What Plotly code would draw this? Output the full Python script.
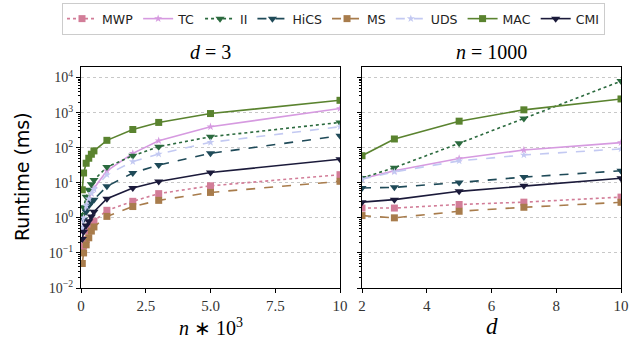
import plotly.graph_objects as go

# Runtime (ms) versus sample size n (in thousands), dimension fixed at d = 3
n_thousands = [0.05, 0.1, 0.2, 0.3, 0.4, 0.5, 1, 2, 3, 5, 10]
n_mwp = [0.12, 0.16, 0.24, 0.42, 0.58, 0.8, 1.64, 2.96, 4.9, 8.2, 17]
n_tc = [0.4, 0.9, 2.0, 3.5, 5.0, 7.0, 22, 69, 158, 395, 1310]
n_ii = [1.2, 2.0, 4.0, 6.3, 9.0, 12, 28, 59, 107, 205, 525]
n_hics = [0.5, 0.9, 1.5, 2.2, 2.8, 3.3, 7.9, 19, 32, 69, 218]
n_ms = [0.05, 0.1, 0.17, 0.27, 0.42, 0.55, 1.1, 2.1, 3.15, 5.3, 11]
n_uds = [0.5, 1.0, 2.2, 3.5, 5.0, 6.5, 17, 40, 66, 142, 395]
n_mac = [6.3, 19, 36, 50, 65, 81, 162, 330, 525, 940, 2240]
n_cmi = [0.25, 0.4, 0.6, 0.8, 1.1, 1.5, 3.5, 7.1, 10.9, 19.6, 47]

# Runtime (ms) versus dimension d, sample size fixed at n = 1000
dims = [2, 3, 5, 7, 10]
d_mwp = [1.9, 1.9, 2.4, 2.8, 3.9]
d_tc = [13, 22, 49, 86, 139]
d_ii = [13.6, 27, 133, 680, 7900]
d_hics = [7.1, 7.4, 10.2, 14.5, 21.9]
d_ms = [1.16, 1.0, 1.54, 2.0, 2.77]
d_uds = [12.7, 20.5, 42, 62, 92]
d_mac = [59, 177, 570, 1200, 2450]
d_cmi = [2.8, 3.3, 5.7, 8.2, 13.5]

methods = ["MWP", "TC", "II", "HiCS", "MS", "UDS", "MAC", "CMI"]
by_n = [n_mwp, n_tc, n_ii, n_hics, n_ms, n_uds, n_mac, n_cmi]
by_d = [d_mwp, d_tc, d_ii, d_hics, d_ms, d_uds, d_mac, d_cmi]

styles = {
    "MWP": dict(color="#d27d98", dash="dot", symbol="square", size=7),
    "TC": dict(color="#d69ae0", dash="solid", symbol="star", size=6),
    "II": dict(color="#2b6a3e", dash="dot", symbol="triangle-down", size=8),
    "HiCS": dict(color="#1f4a58", dash="dash", symbol="triangle-down", size=8),
    "MS": dict(color="#a87c4c", dash="dash", symbol="square", size=7),
    "UDS": dict(color="#c3c9f2", dash="dash", symbol="star", size=6),
    "MAC": dict(color="#5a832f", dash="solid", symbol="square", size=7),
    "CMI": dict(color="#1b1a3a", dash="solid", symbol="triangle-down", size=8),
}

fig = go.Figure()
for name, ys_n, ys_d in zip(methods, by_n, by_d):
    st = styles[name]
    common = dict(
        mode="lines+markers",
        name=name,
        line=dict(color=st["color"], dash=st["dash"], width=1.6),
        marker=dict(symbol=st["symbol"], size=st["size"], color=st["color"],
                    line=dict(width=0)),
    )
    fig.add_trace(go.Scatter(x=n_thousands, y=ys_n, xaxis="x", yaxis="y",
                             showlegend=True, legendgroup=name, **common))
    fig.add_trace(go.Scatter(x=dims, y=ys_d, xaxis="x2", yaxis="y2",
                             showlegend=False, legendgroup=name, **common))

serif = "Liberation Serif"
sans = "DejaVu Sans"

major = [10.0 ** k for k in range(-2, 5)]
major_text = ["10<sup>%d</sup>" % k if k >= 0 else "10<sup>\u2212%d</sup>" % -k
              for k in range(-2, 5)]
minor = [m * 10.0 ** k for k in range(-2, 5) for m in range(2, 10)]

H = 339.0
W = 629.0
ydom = [(H - 288) / H, (H - 67) / H]

yaxis_common = dict(
    type="log", range=[-2, 4.3], domain=ydom, automargin=False,
    showline=True, linecolor="black", linewidth=1, mirror=True,
    ticks="outside", ticklen=4, tickcolor="black",
    tickvals=major,
    showgrid=True, gridcolor="#c8c8c8", griddash="dot", gridwidth=1,
    minor=dict(ticks="outside", ticklen=2, tickcolor="black", tickvals=minor,
               showgrid=False),
    zeroline=False,
)

xaxis_common = dict(
    automargin=False,
    showline=True, linecolor="black", linewidth=1, mirror=True,
    ticks="outside", ticklen=4, tickcolor="black",
    showgrid=False, zeroline=False,
    tickfont=dict(family=serif, size=15, color="#333333"),
)


def label(text, px, py, size, family, angle=0):
    return dict(text=text, x=px / W, y=(H - py) / H, xref="paper", yref="paper",
                xanchor="center", yanchor="middle", showarrow=False,
                textangle=angle, font=dict(family=family, size=size, color="black"))


fig.update_layout(
    width=629, height=339,
    margin=dict(l=0, r=0, t=0, b=0, autoexpand=False),
    paper_bgcolor="white", plot_bgcolor="white",
    xaxis=dict(domain=[81 / W, 340 / W], range=[0, 10],
               tickvals=[0, 2.5, 5, 7.5, 10],
               ticktext=["0", "2.5", "5.0", "7.5", "10"],
               anchor="y", **xaxis_common),
    xaxis2=dict(domain=[362 / W, 621 / W], range=[2, 10],
                tickvals=[2, 4, 6, 8, 10], anchor="y2", **xaxis_common),
    yaxis=dict(anchor="x", ticktext=major_text,
               tickfont=dict(family=serif, size=14, color="#333333"),
               **yaxis_common),
    yaxis2=dict(anchor="x2", showticklabels=False, **yaxis_common),
    legend=dict(
        orientation="h", x=62 / W, y=1 - 3 / H, xanchor="left", yanchor="top",
        font=dict(family=sans, size=12.5, color="#222222"),
        bordercolor="#cccccc", borderwidth=1, bgcolor="white",
        itemwidth=30, tracegroupgap=0,
    ),
    annotations=[
        label("<i>d</i> = 3", (81 + 340) / 2, 52, 20, serif),
        label("<i>n</i> = 1000", (362 + 621) / 2, 52, 20, serif),
        label("<i>n</i> \u2217 10<sup>3</sup>", (81 + 340) / 2, 327, 20, serif),
        label("<i>d</i>", (362 + 621) / 2, 326, 23, serif),
        label("Runtime (ms)", 22, 177, 19, sans, angle=-90),
    ],
)

fig.write_html("out.html")
